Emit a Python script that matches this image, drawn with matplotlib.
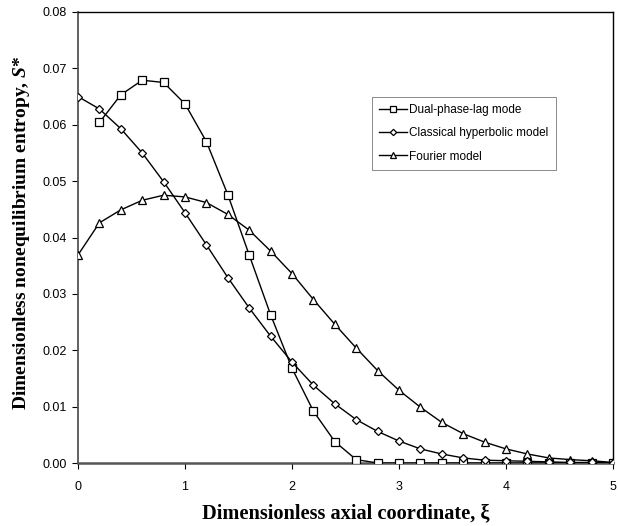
import matplotlib
matplotlib.use("Agg")
import matplotlib.pyplot as plt
import numpy as np

xi = [0.0, 0.2, 0.4, 0.6, 0.8, 1.0, 1.2, 1.4, 1.6, 1.8, 2.0, 2.2, 2.4, 2.6, 2.8,
      3.0, 3.2, 3.4, 3.6, 3.8, 4.0, 4.2, 4.4, 4.6, 4.8, 5.0]

dpl_x = xi[1:]
dpl = [0.0604, 0.0653, 0.0679, 0.0675, 0.0637, 0.0570, 0.0476, 0.0369, 0.0263,
       0.0168, 0.0092, 0.0038, 0.0006, 0.0, 0.0, 0.0, 0.0, 0.0, 0.0, 0.0, 0.0,
       0.0, 0.0, 0.0, 0.0]

hyp = [0.0650, 0.0628, 0.0593, 0.0550, 0.0499, 0.0444, 0.0387, 0.0329, 0.0275,
       0.0225, 0.0179, 0.0138, 0.0105, 0.0077, 0.0056, 0.0039, 0.0025, 0.0016,
       0.0009, 0.0005, 0.0004, 0.0003, 0.0002, 0.0001, 0.0001, 0.0000]

fou = [0.0369, 0.0426, 0.0449, 0.0466, 0.0475, 0.0472, 0.0462, 0.0441, 0.0413,
       0.0376, 0.0336, 0.0290, 0.0246, 0.0204, 0.0164, 0.0129, 0.0099, 0.0072,
       0.0052, 0.0037, 0.0025, 0.0016, 0.0009, 0.0006, 0.0004, 0.0001]

labels = ["Dual-phase-lag mode", "Classical hyperbolic model", "Fourier model"]
xticks = [0, 1, 2, 3, 4, 5]
yticks = [0.00, 0.01, 0.02, 0.03, 0.04, 0.05, 0.06, 0.07, 0.08]

plt.rcParams['mathtext.fontset'] = 'custom'
plt.rcParams['mathtext.it'] = 'Liberation Serif:italic:bold'
plt.rcParams['mathtext.rm'] = 'Liberation Serif:bold'

fig = plt.figure(figsize=(6.18, 5.26), dpi=100)
ax = fig.add_axes([78/618, 63/526, 535/618, 451/526])

mk = dict(color='black', linewidth=1.0, markerfacecolor='white',
          markeredgecolor='black', markeredgewidth=0.9)
ax.plot(dpl_x, dpl, marker='s', markersize=6, label=labels[0], zorder=3, **mk)
ax.plot(xi, hyp, marker='D', markersize=4, label=labels[1], zorder=4, **mk)
ax.plot(xi, fou, marker='^', markersize=5.5, label=labels[2], zorder=3, **mk)

ax.set_xlim(0, 5)
ax.set_ylim(0, 0.08)
ax.set_xticks(xticks)
ax.set_yticks(yticks)
ax.set_xticklabels([str(t) for t in xticks], fontfamily='Liberation Sans', fontsize=9)
ax.set_yticklabels([f"{t:.2f}" for t in yticks], fontfamily='Liberation Sans', fontsize=9)
ax.tick_params(direction='out', length=4, width=0.8, colors='black', pad=4)
ax.tick_params(axis='x', pad=9)
for s in ax.spines.values():
    s.set_linewidth(1.0)
ax.spines['bottom'].set_linewidth(1.8)
ax.spines['bottom'].set_color('#555555')
ax.spines['left'].set_color('#555555')
ax.spines['left'].set_linewidth(1.3)

ax.set_xlabel("Dimensionless axial coordinate, ξ", fontfamily='Liberation Serif',
              fontweight='bold', fontsize=14.7, labelpad=7)
ax.set_ylabel("Dimensionless nonequilibrium entropy, $S$*", fontfamily='Liberation Serif',
              fontweight='bold', fontsize=14)
ax.yaxis.set_label_coords(-0.086, 0.51)

leg = ax.legend(loc='upper left', bbox_to_anchor=((372-78)/535, (463-97)/451),
                prop={'family': 'Liberation Sans', 'size': 8.5}, frameon=True,
                fancybox=False, edgecolor='#555555', handlelength=2.4,
                handletextpad=0.15, borderpad=0.6, labelspacing=0.95,
                borderaxespad=0.0, markerscale=0.8)
leg.get_frame().set_linewidth(0.6)

fig.savefig("out.png", dpi=100)
